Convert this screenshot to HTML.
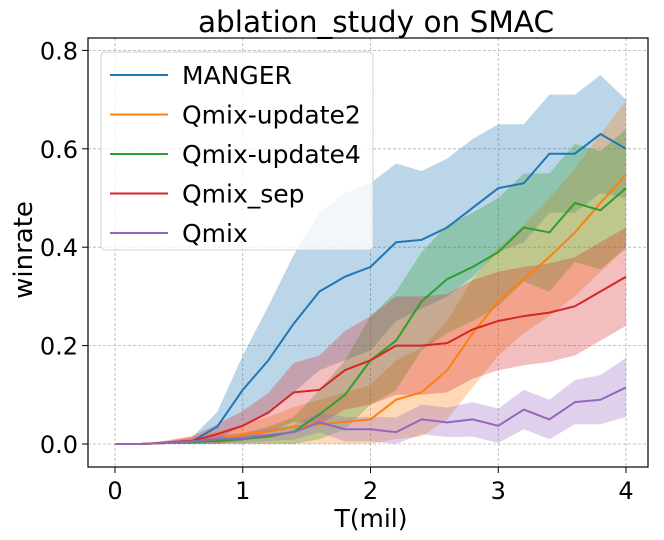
<!DOCTYPE html>
<html><head><meta charset="utf-8"><style>
body{margin:0;background:#fff;}
svg{display:block;font-family:"DejaVu Sans","Liberation Sans",sans-serif;}
</style></head><body>
<svg id="chart" width="664" height="540" viewBox="0 0 664 540" xmlns="http://www.w3.org/2000/svg">
<text x="376" y="32" font-size="29.5" text-anchor="middle">ablation_study on SMAC</text>
<text x="32" y="250" font-size="26" text-anchor="middle" transform="rotate(-90 32 250)">winrate</text>
<text x="371" y="527" font-size="25" text-anchor="middle">T(mil)</text>
<g id="grid"></g>
<g id="bands"></g>
<g id="lines"></g>
<rect x="88" y="38" width="560" height="429" fill="none" stroke="#000" stroke-width="1.2"/>
<g id="ticks"></g>
<g id="legend"></g>
</svg>
<script>
const tGrid = [0,0.2,0.4,0.6,0.8,1.0,1.2,1.4,1.6,1.8,2.0,2.2,2.4,2.6,2.8,3.0,3.2,3.4,3.6,3.8,4.0];
const xTicks = [0,1,2,3,4];
const yTicks = [0.0,0.2,0.4,0.6,0.8];
const seriesNames = ["MANGER","Qmix-update2","Qmix-update4","Qmix_sep","Qmix"];
const seriesColors = ["#1f77b4","#ff7f0e","#2ca02c","#d62728","#9467bd"];
const mangerMean = [0,0,0.002,0.005,0.035,0.11,0.17,0.245,0.31,0.34,0.36,0.41,0.415,0.44,0.48,0.52,0.53,0.59,0.59,0.63,0.60];
const mangerSpread = [0,0,0.003,0.008,0.03,0.07,0.11,0.14,0.16,0.17,0.17,0.16,0.14,0.14,0.14,0.13,0.12,0.12,0.12,0.12,0.1];
const upd2Mean = [0,0,0.002,0.005,0.01,0.02,0.025,0.035,0.04,0.045,0.05,0.09,0.105,0.15,0.225,0.29,0.335,0.38,0.43,0.49,0.547];
const upd2Spread = [0,0,0.003,0.01,0.015,0.02,0.03,0.04,0.05,0.06,0.07,0.08,0.09,0.1,0.11,0.11,0.11,0.12,0.13,0.14,0.15];
const upd4Mean = [0,0,0.002,0.004,0.006,0.01,0.015,0.025,0.06,0.1,0.17,0.21,0.29,0.335,0.36,0.39,0.44,0.43,0.49,0.475,0.52];
const upd4Spread = [0,0,0.003,0.005,0.008,0.012,0.02,0.03,0.05,0.07,0.09,0.1,0.1,0.11,0.11,0.11,0.11,0.12,0.12,0.12,0.12];
const sepMean = [0,0,0.003,0.006,0.02,0.037,0.064,0.105,0.11,0.15,0.17,0.2,0.2,0.205,0.233,0.25,0.26,0.267,0.28,0.31,0.34];
const sepSpread = [0,0,0.004,0.01,0.02,0.03,0.04,0.06,0.07,0.08,0.09,0.1,0.1,0.1,0.1,0.1,0.1,0.1,0.1,0.1,0.1];
const qmixMean = [0,0,0.002,0.005,0.01,0.012,0.018,0.024,0.044,0.03,0.03,0.024,0.05,0.044,0.05,0.037,0.07,0.05,0.085,0.09,0.115];
const qmixSpread = [0,0,0.003,0.005,0.008,0.01,0.012,0.015,0.02,0.025,0.025,0.03,0.03,0.03,0.035,0.035,0.04,0.04,0.045,0.05,0.06];

const means = [mangerMean, upd2Mean, upd4Mean, sepMean, qmixMean];
const spreads = [mangerSpread, upd2Spread, upd4Spread, sepSpread, qmixSpread];
const NS = "http://www.w3.org/2000/svg";
function xs(t){return 115 + t*127.75;}
function ys(v){return 444 - v*492;}
function mk(tag, attrs, parent){const e=document.createElementNS(NS,tag);for(const k in attrs)e.setAttribute(k,attrs[k]);parent.appendChild(e);return e;}
const grid=document.getElementById('grid'), ticks=document.getElementById('ticks');
xTicks.forEach(t=>{
  const g=mk('line',{x1:xs(t),x2:xs(t),y1:38,y2:467,stroke:'#b0b0b0','stroke-width':0.8,'stroke-dasharray':'3,2'},grid);
  
  
  mk('line',{x1:xs(t),x2:xs(t),y1:467,y2:473,stroke:'#000'},ticks);
  const tx=mk('text',{x:xs(t),y:499,'font-size':24,'text-anchor':'middle'},ticks);
  tx.textContent=String(t);
  
  
});
yTicks.forEach(v=>{
  const g=mk('line',{x1:88,x2:648,y1:ys(v),y2:ys(v),stroke:'#b0b0b0','stroke-width':0.8,'stroke-dasharray':'3,2'},grid);
  
  
  mk('line',{x1:82,x2:88,y1:ys(v),y2:ys(v),stroke:'#000'},ticks);
  const tx=mk('text',{x:78,y:ys(v)+9,'font-size':24,'text-anchor':'end'},ticks);
  tx.textContent=v.toFixed(1);
  
  
});
const bands=document.getElementById('bands'), lines=document.getElementById('lines');
means.forEach((m,i)=>{
  const s=spreads[i];
  let up=tGrid.map((t,j)=>xs(t)+','+ys(m[j]+s[j]));
  let lo=tGrid.map((t,j)=>xs(t)+','+ys(Math.max(0,m[j]-s[j]))).reverse();
  const b=mk('polygon',{points:up.concat(lo).join(' '),fill:seriesColors[i],'fill-opacity':0.3},bands);
  
  
  const l=mk('polyline',{points:tGrid.map((t,j)=>xs(t)+','+ys(m[j])).join(' '),fill:'none',stroke:seriesColors[i],'stroke-width':2,'stroke-linejoin':'round'},lines);
  
  
});
const lg=document.getElementById('legend');
const box=mk('rect',{x:101,y:52,width:272,height:198,rx:4,fill:'#fff','fill-opacity':0.8,stroke:'#d0d0d0'},lg);


seriesNames.forEach((n,i)=>{
  const y=75+i*39.5;
  const ln=mk('line',{x1:110,x2:168,y1:y,y2:y,stroke:seriesColors[i],'stroke-width':2},lg);
  
  
  const tx=mk('text',{x:182,y:y+9,'font-size':25},lg);
  tx.textContent=n;
  
  
});
</script>
</body></html>
